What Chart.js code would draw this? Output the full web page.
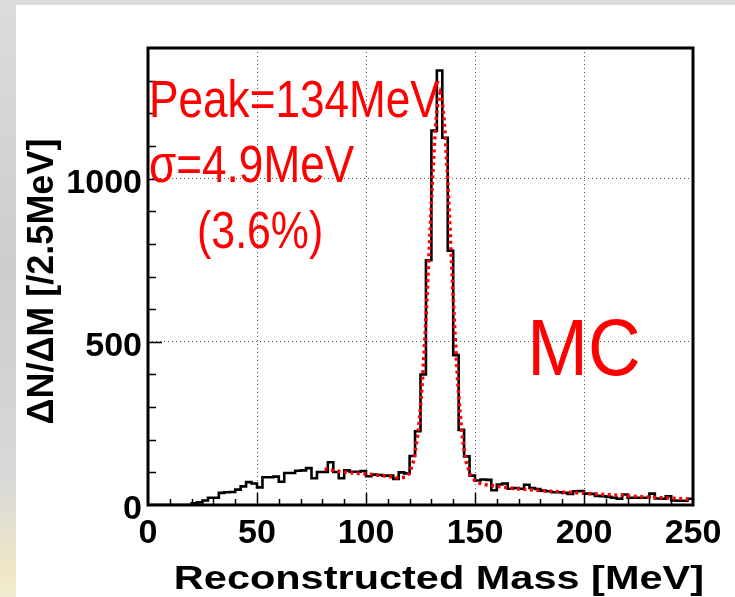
<!DOCTYPE html>
<html>
<head>
<meta charset="utf-8">
<script src="https://cdn.jsdelivr.net/npm/chart.js@4.4.1/dist/chart.umd.min.js"></script>
<style>
  html, body { margin: 0; padding: 0; }
  body {
    width: 735px; height: 597px; position: relative; overflow: hidden;
    background: linear-gradient(to bottom, #dcdcdc 0%, #cdcdcd 45%, #d8d8d8 80%, #efe7c6 96%, #f2ecd2 100%);
  }
  #panel { position: absolute; left: 16px; top: 5px; right: 0; bottom: 0; background: #fff; }
  #wrap { position: absolute; left: 0; top: 0; width: 735px; height: 597px; }
</style>
</head>
<body>
<div id="panel"></div>
<div id="wrap"><canvas id="grafica-masa" width="735" height="597"></canvas></div>
<script>
// Histograma de masa reconstruida (bins de 2.5 MeV, 0-250 MeV)
const binWidth = 2.5;
const counts = [
    0, 0, 0, 0, 0, 0, 0, 0, 5, 8,
    14, 22, 22, 37, 39, 40, 47, 57, 70, 66,
    54, 85, 85, 87, 71, 98, 98, 105, 106, 113,
    82, 101, 101, 131, 101, 82, 106, 102, 102, 104,
    88, 93, 92, 90, 90, 80, 100, 97, 150, 226,
    400, 750, 1147, 1331, 1125, 779, 459, 230, 149, 90,
    75, 78, 77, 45, 63, 66, 50, 52, 50, 62,
    52, 49, 44, 42, 39, 39, 37, 34, 42, 43,
    35, 34, 28, 27, 25, 22, 19, 32, 22, 22,
    22, 22, 35, 20, 19, 27, 14, 13, 13, 19
];

// Curva de ajuste (gaussiana + fondo)
const fitMass = [
    81, 85, 90, 95, 100, 105, 110, 115, 118, 120, 122, 124,
    125, 126, 127, 128, 129, 130, 131, 132, 133, 134, 135,
    136, 137, 138, 139, 140, 141, 142, 143, 144, 145, 146,
    148, 150, 152, 155, 160, 165, 170,
    180, 190, 200, 210, 220, 230, 240, 250
];
const fitCounts = [
    110, 106, 101, 97, 95, 92, 88, 83, 85, 98, 139, 228,
    299, 392, 506, 639, 782, 927, 1061, 1168, 1237, 1262, 1237,
    1166, 1059, 925, 779, 635, 502, 387, 293, 221, 168, 131,
    90, 74, 67, 62, 57, 53, 49,
    44, 40, 36, 32, 28, 24, 21, 17
];

const xTicks = [0, 50, 100, 150, 200, 250];
const xTickLabels = ['0', '50', '100', '150', '200', '250'];
const yTicks = [0, 500, 1000];
const yTickLabels = ['0', '500', '1000'];
const xMinorStep = 10;
const yMinorStep = 100;

const xTitle = 'Reconstructed Mass [MeV]';
const yTitle = '\u0394N/\u0394M [/2.5MeV]';
const fitLabels = ['Peak=134MeV', '\u03c3=4.9MeV', '(3.6%)'];
const sampleLabel = 'MC';

// puntos del histograma en escalones: borde inferior de cada bin + cierre en 250
const histo = counts.map((c, i) => ({ x: i * binWidth, y: c }));
histo.push({ x: counts.length * binWidth, y: counts[counts.length - 1] });

const fitPoints = fitMass.map((m, i) => ({ x: m, y: fitCounts[i] }));

const FAMILY = '"Liberation Sans", Arial, Helvetica, sans-serif';

// marco y ticks hacia dentro, estilo ROOT
const marco = {
    id: 'marco',
    afterDatasetsDraw(chart) {
        const { ctx, chartArea: a, scales: { x, y } } = chart;
        ctx.save();
        ctx.strokeStyle = '#000';
        ctx.lineWidth = 1.5;
        ctx.beginPath();
        for (let v = x.min + xMinorStep; v < x.max; v += xMinorStep) {
            const px = Math.round(x.getPixelForValue(v)) + 0.5;
            const len = xTicks.includes(v) ? 12 : 6;
            ctx.moveTo(px, a.bottom);
            ctx.lineTo(px, a.bottom - len);
        }
        for (let v = y.min + yMinorStep; v < y.max; v += yMinorStep) {
            const py = Math.round(y.getPixelForValue(v)) + 0.5;
            const len = yTicks.includes(v) ? 14 : 8;
            ctx.moveTo(a.left, py);
            ctx.lineTo(a.left + len, py);
        }
        ctx.stroke();
        ctx.lineWidth = 3;
        ctx.strokeRect(a.left, a.top, a.right - a.left, a.bottom - a.top);
        ctx.restore();
    }
};

function drawText(ctx, text, px, py, font, sx, color, align) {
    ctx.save();
    ctx.translate(px, py);
    ctx.scale(sx, 1);
    ctx.font = font;
    ctx.fillStyle = color;
    ctx.textAlign = align || 'left';
    ctx.textBaseline = 'alphabetic';
    ctx.fillText(text, 0, 0);
    ctx.restore();
}

// textos: titulos de ejes y resultados del ajuste
const textos = {
    id: 'textos',
    afterDraw(chart) {
        const { ctx, chartArea: a, scales: { x, y } } = chart;
        drawText(ctx, xTitle, a.right + 11, a.bottom + 84, 'bold 34px ' + FAMILY, 1.22, '#000', 'right');

        ctx.save();
        ctx.translate(53, (a.top + a.bottom) / 2 + 5);
        ctx.rotate(-Math.PI / 2);
        ctx.font = 'bold 36px ' + FAMILY;
        ctx.fillStyle = '#000';
        ctx.textAlign = 'center';
        ctx.textBaseline = 'alphabetic';
        ctx.fillText(yTitle, 0, 0);
        ctx.restore();

        const red = '#ff0000';
        const f = '51px ' + FAMILY;
        drawText(ctx, fitLabels[0], x.getPixelForValue(0.5), y.getPixelForValue(1188), f, 0.865, red);
        drawText(ctx, fitLabels[1], x.getPixelForValue(0.5), y.getPixelForValue(990), f, 0.865, red);
        drawText(ctx, fitLabels[2], x.getPixelForValue(22.5), y.getPixelForValue(787), f, 0.84, red);
        drawText(ctx, sampleLabel, x.getPixelForValue(174), y.getPixelForValue(398), '80px ' + FAMILY, 0.91, red);
    }
};

const tickFont = { family: FAMILY, size: 34, weight: 'bold' };

new Chart(document.getElementById('grafica-masa'), {
    type: 'line',
    data: {
        datasets: [{
            label: 'Ajuste',
            data: fitPoints,
            borderColor: '#ff0000',
            borderWidth: 3.5,
            borderDash: [3, 3.5],
            borderCapStyle: 'butt',
            pointRadius: 0,
            fill: false,
            tension: 0,
            order: 0
        }, {
            label: 'MC',
            data: histo,
            borderColor: '#000000',
            borderWidth: 2.6,
            stepped: 'before',
            pointRadius: 0,
            fill: false,
            order: 1
        }]
    },
    options: {
        responsive: false,
        animation: false,
        layout: { padding: { left: 0, right: 42, top: 48, bottom: 0 } },
        plugins: {
            legend: { display: false },
            tooltip: { enabled: false }
        },
        scales: {
            x: {
                type: 'linear',
                min: 0,
                max: 250,
                afterBuildTicks: s => { s.ticks = xTicks.map(v => ({ value: v })); },
                afterFit: s => { s.height = 92; },
                ticks: {
                    font: tickFont, color: '#000', padding: 8, maxRotation: 0, minRotation: 0, autoSkip: false,
                    callback: v => xTickLabels[xTicks.indexOf(v)]
                },
                grid: {
                    color: c => (c.tick && c.tick.value > 0 && c.tick.value < 250) ? '#555' : 'rgba(0,0,0,0)',
                    lineWidth: 1,
                    drawTicks: false
                },
                border: { display: false, dash: [1, 3] }
            },
            y: {
                type: 'linear',
                min: 0,
                max: 1400,
                afterBuildTicks: s => { s.ticks = yTicks.map(v => ({ value: v })); },
                afterFit: s => { s.width = 148; },
                ticks: {
                    font: tickFont, color: '#000', padding: 6, labelOffset: 5,
                    callback: v => yTickLabels[yTicks.indexOf(v)]
                },
                grid: {
                    color: c => (c.tick && c.tick.value > 0) ? '#555' : 'rgba(0,0,0,0)',
                    lineWidth: 1,
                    drawTicks: false
                },
                border: { display: false, dash: [1, 3] }
            }
        }
    },
    plugins: [marco, textos]
});
</script>
</body>
</html>
